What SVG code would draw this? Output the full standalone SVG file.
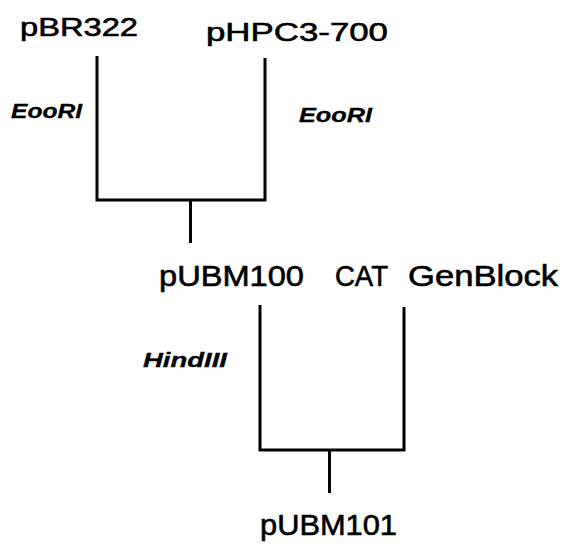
<svg xmlns="http://www.w3.org/2000/svg" width="577" height="553" viewBox="0 0 577 553">
<style>
.lbl{font-family:"Liberation Sans",Arial,sans-serif;fill:#000;stroke:#000;stroke-width:0.6}
.top{font-size:26px}
.bot{font-size:29px}
.enz{font-size:20px;font-weight:bold;font-style:italic;stroke-width:0.3}
.ln{fill:none;stroke:#000;stroke-width:3;stroke-linejoin:miter;stroke-linecap:butt}
</style>
<rect width="577" height="553" fill="#fff"/>
<g id="connectors">
<path class="ln" d="M97 56 V200 H265 V58"/>
<path class="ln" d="M190.5 200 V243"/>
<path class="ln" d="M260 305 V450 H404 V307"/>
<path class="ln" d="M329.5 450 V493"/>
</g>
<g id="pBR322"><text class="lbl top" x="20" y="36" textLength="118" lengthAdjust="spacingAndGlyphs">pBR322</text></g>
<g id="pHPC3-700"><text class="lbl top" x="206" y="41" textLength="182" lengthAdjust="spacingAndGlyphs">pHPC3-700</text></g>
<g id="enz-left"><text class="lbl enz" x="11" y="118" textLength="71" lengthAdjust="spacingAndGlyphs">EooRI</text></g>
<g id="enz-right"><text class="lbl enz" x="299" y="122" textLength="73" lengthAdjust="spacingAndGlyphs">EooRI</text></g>
<g id="pUBM100"><text class="lbl bot" x="159" y="286" textLength="145" lengthAdjust="spacingAndGlyphs">pUBM100</text></g>
<g id="CAT-GenBlock"><text class="lbl bot" x="335" y="286" textLength="53" lengthAdjust="spacingAndGlyphs">CAT</text><text class="lbl bot" x="408" y="286" textLength="150" lengthAdjust="spacingAndGlyphs">GenBlock</text></g>
<g id="HindIII"><text class="lbl enz" x="143" y="367" textLength="84" lengthAdjust="spacingAndGlyphs">HindIII</text></g>
<g id="pUBM101"><text class="lbl bot" x="260" y="535" textLength="137" lengthAdjust="spacingAndGlyphs">pUBM101</text></g>
</svg>
